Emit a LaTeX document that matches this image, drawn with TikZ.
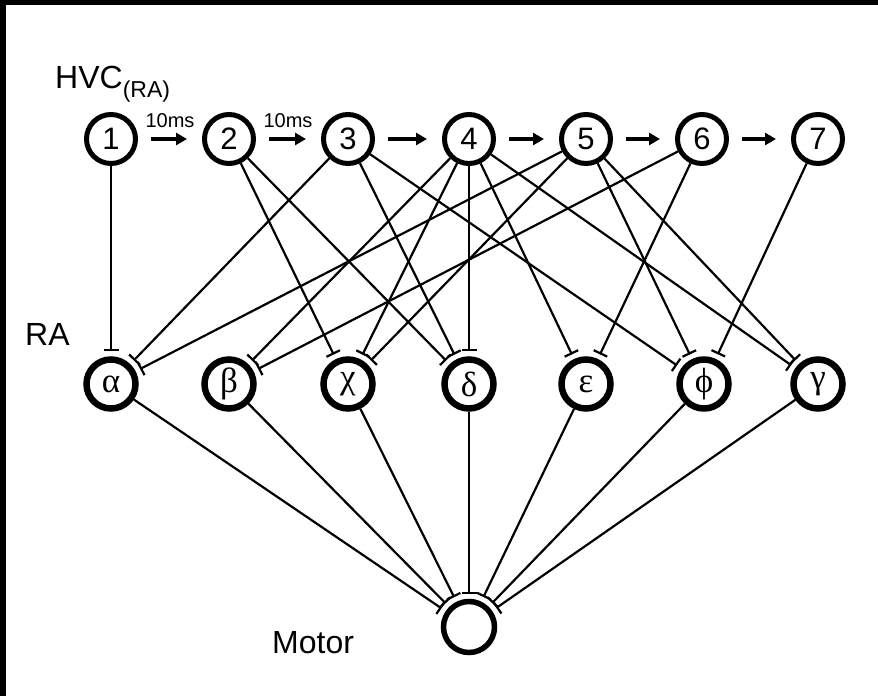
\documentclass[tikz,border=0pt]{standalone}
\usepackage{fontspec}
\setmainfont{Liberation Sans}
\newfontfamily\greekfont{Liberation Serif}
\usetikzlibrary{arrows.meta}

\begin{document}
\begin{tikzpicture}[x=1pt,y=-1pt,
  hvc/.style={circle, draw, line width=5pt, minimum size=49pt, inner sep=0pt,
              font=\fontsize{31}{31}\selectfont},
  ra/.style={circle, draw, line width=6.5pt, minimum size=49pt, inner sep=0pt,
             font=\greekfont\fontsize{35}{35}\selectfont},
  motor/.style={circle, draw, line width=5.5pt, minimum size=51pt, inner sep=0pt},
  syn/.style={line width=2.2pt, -{Bar[width=15pt]}, shorten >=5pt},
  chain/.style={line width=3.5pt, -{Triangle[length=11pt,width=12pt]},
                shorten <=13pt, shorten >=15pt},
  lbl/.style={anchor=base west, inner sep=0pt, font=\fontsize{32}{32}\selectfont},
  ms/.style={anchor=base, inner sep=0pt, font=\fontsize{20}{20}\selectfont},
]
% canvas and frame
\fill[white] (0,0) rectangle (878,696);
\useasboundingbox (0,0) rectangle (878,696);
\fill[black] (0,0) rectangle (878,5);
\fill[black] (0,0) rectangle (6,696);

% labels
\node[lbl] (hvclabel) at (55,88) {HVC\raisebox{-9pt}{\fontsize{23}{23}\selectfont(RA)}};
\node[lbl] (ralabel) at (25,345) {RA};
\node[lbl] (motorlabel) at (272,653) {Motor};

% HVC(RA) neurons
\node[hvc] (h1) at (111,139) {1};
\node[hvc] (h2) at (229,139) {2};
\node[hvc] (h3) at (348,139) {3};
\node[hvc] (h4) at (469,139) {4};
\node[hvc] (h5) at (586,139) {5};
\node[hvc] (h6) at (702,139) {6};
\node[hvc] (h7) at (818,139) {7};

% RA neurons
\node[ra] (ra) at (111,384) {α};
\node[ra] (rb) at (229,384) {β};
\node[ra] (rc) at (348,384) {χ};
\node[ra] (rd) at (469,384) {δ};
\node[ra] (re) at (586,384) {ε};
\node[ra] (rf) at (704,384) {ϕ};
\node[ra] (rg) at (818,384) {γ};

% motor neuron
\node[motor] (m) at (469,627) {};

% sequential chain
\draw[chain] (h1) -- (h2);
\draw[chain] (h2) -- (h3);
\draw[chain] (h3) -- (h4);
\draw[chain] (h4) -- (h5);
\draw[chain] (h5) -- (h6);
\draw[chain] (h6) -- (h7);
\node[ms] (d1) at (170,127) {10ms};
\node[ms] (d2) at (288,127) {10ms};

% HVC(RA) -> RA projections
\draw[syn] (h1) -- (ra);
\draw[syn] (h2) -- (rc);
\draw[syn] (h2) -- (rd);
\draw[syn] (h3) -- (ra);
\draw[syn] (h3) -- (rd);
\draw[syn] (h3) -- (rf);
\draw[syn] (h4) -- (rb);
\draw[syn] (h4) -- (rc);
\draw[syn] (h4) -- (rd);
\draw[syn] (h4) -- (re);
\draw[syn] (h4) -- (rg);
\draw[syn] (h5) -- (ra);
\draw[syn] (h5) -- (rc);
\draw[syn] (h5) -- (rf);
\draw[syn] (h5) -- (rg);
\draw[syn] (h6) -- (rb);
\draw[syn] (h6) -- (re);
\draw[syn] (h7) -- (rf);

% RA -> motor projections
\foreach \n in {ra,rb,rc,rd,re,rf,rg}
  \draw[syn] (\n) -- (m);
\end{tikzpicture}
\end{document}
